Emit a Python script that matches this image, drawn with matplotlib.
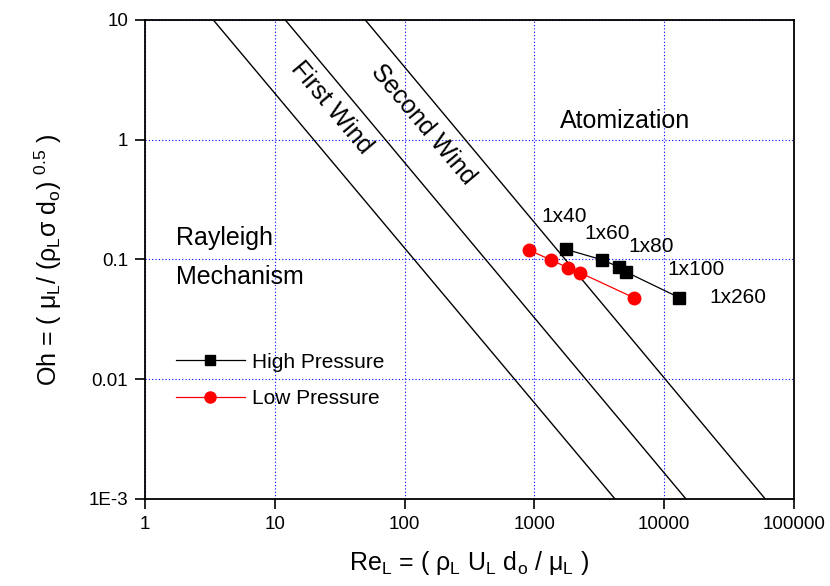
import matplotlib
matplotlib.use("Agg")
import matplotlib.pyplot as plt
from matplotlib.lines import Line2D

plt.rcParams['font.family'] = ['Liberation Sans', 'DejaVu Sans']
plt.rcParams['mathtext.fontset'] = 'custom'
plt.rcParams['mathtext.rm'] = 'Liberation Sans'
plt.rcParams['mathtext.it'] = 'Liberation Sans'
plt.rcParams['mathtext.default'] = 'regular'

# Regime boundary lines (endpoints)
first_line_x = [3.36, 4180]
first_line_y = [10, 1e-3]
second_line_x = [12.05, 14720]
second_line_y = [10, 1e-3]
third_line_x = [49.8, 60100]
third_line_y = [10, 1e-3]

# Data series
high_re = [1742, 3299, 4486, 5079, 13070]
high_oh = [0.1217, 0.0996, 0.0866, 0.0787, 0.048]
low_re = [908, 1343, 1806, 2245, 5821]
low_oh = [0.120, 0.099, 0.0855, 0.0776, 0.048]
point_labels = ['1x40', '1x60', '1x80', '1x100', '1x260']

x_ticks = [1, 10, 100, 1000, 10000, 100000]
x_ticklabels = ['1', '10', '100', '1000', '10000', '100000']
y_ticks = [1e-3, 0.01, 0.1, 1, 10]
y_ticklabels = ['1E-3', '0.01', '0.1', '1', '10']

fig = plt.figure(figsize=(8.3, 5.86), dpi=100)
ax = fig.add_axes([0.1747, 0.1485, 0.7819, 0.8174])
ax.set_xscale('log')
ax.set_yscale('log')
ax.set_xlim(1, 100000)
ax.set_ylim(1e-3, 10)

for lx, ly in [(first_line_x, first_line_y), (second_line_x, second_line_y), (third_line_x, third_line_y)]:
    ax.plot(lx, ly, color='black', lw=1.0, zorder=2)

ax.plot(high_re, high_oh, color='black', lw=0.9, marker='s', ms=8,
        mfc='black', mec='black', zorder=4)
ax.plot(low_re, low_oh, color='red', lw=0.9, marker='o', ms=9,
        mfc='red', mec='red', zorder=4)

label_pos = [(1690, 0.2264), (3606, 0.1655), (7870, 0.128), (17580, 0.0817), (37240, 0.0483)]
for t, (px, py) in zip(point_labels, label_pos):
    ax.text(px, py, t, fontsize=15, ha='center', va='center', zorder=5)

ax.text(0.7396, 0.789, 'Atomization', fontsize=18, ha='center', va='center', transform=ax.transAxes)
ax.text(0.0478, 0.5449, 'Rayleigh', fontsize=18, ha='left', va='center', transform=ax.transAxes)
ax.text(0.0478, 0.464, 'Mechanism', fontsize=18, ha='left', va='center', transform=ax.transAxes)
ax.text(0.2866, 0.8163, 'First Wind', fontsize=18, ha='center', va='center', rotation=-50,
        rotation_mode='anchor', transform=ax.transAxes)
ax.text(0.4283, 0.781, 'Second Wind', fontsize=18, ha='center', va='center', rotation=-50,
        rotation_mode='anchor', transform=ax.transAxes)

handles = [Line2D([], [], color='black', lw=0.9, marker='s', ms=7),
           Line2D([], [], color='red', lw=0.9, marker='o', ms=8)]
ax.legend(handles, ['High Pressure', 'Low Pressure'], loc='upper left',
          bbox_to_anchor=(0.035, 0.323), frameon=False, fontsize=15,
          handlelength=3.3, handletextpad=0.35, labelspacing=0.84, borderaxespad=0)

ax.set_xticks(x_ticks)
ax.set_xticklabels(x_ticklabels)
ax.set_yticks(y_ticks)
ax.set_yticklabels(y_ticklabels)
ax.minorticks_off()
ax.tick_params(direction='out', length=7, width=1.2, labelsize=13.5, pad=5,
               top=False, right=False)
for s in ax.spines.values():
    s.set_linewidth(1.3)

ax.grid(True, which='major', color='blue', linestyle=(0, (1, 2)), lw=0.8)

ax.set_xlabel(r'Re$_L$ = ( ρ$_L$ U$_L$ d$_o$ / μ$_L$ )', fontsize=18, labelpad=12)
ax.set_ylabel(r'Oh = ( μ$_L$/ (ρ$_L$σ d$_o$) $^{0.5}$ )', fontsize=18, labelpad=18)

fig.savefig('out.png', dpi=100)
